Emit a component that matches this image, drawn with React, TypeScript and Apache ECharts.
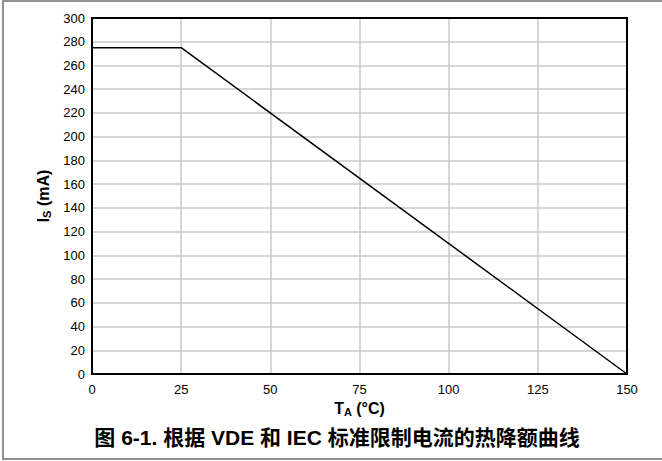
import React, { useEffect, useRef } from "react";
import * as echarts from "echarts";

const temperature = [0, 25, 150];
const current = [275, 275, 0];
const titleText = "图 6-1. 根据 VDE 和 IEC 标准限制电流的热降额曲线";

export default function App() {
  const ref = useRef<HTMLDivElement>(null);
  useEffect(() => {
    document.body.style.margin = "0";
    const chart = echarts.init(ref.current!, undefined, { renderer: "svg" });
    const font = "Arial, 'Liberation Sans', Helvetica, sans-serif";
    const nameRich = {
      a: { fontSize: 16, fontWeight: "bold", color: "#000", fontFamily: font },
      s: { fontSize: 11, fontWeight: "bold", color: "#000", fontFamily: font, padding: [6, 0, 0, 0] },
    };
    chart.setOption({
      animation: false,
      backgroundColor: "#fff",
      textStyle: { fontFamily: font },
      grid: {
        left: 92,
        top: 18,
        width: 535,
        height: 356,
        show: true,
        borderColor: "#000",
        borderWidth: 2,
        z: 3,
      },
      xAxis: {
        type: "value",
        min: 0,
        max: 150,
        interval: 25,
        name: "{a|T}{s|A}{a| (°C)}",
        nameLocation: "middle",
        nameGap: 24,
        nameTextStyle: { rich: nameRich },
        axisLine: { show: false },
        axisTick: { show: false },
        axisLabel: { color: "#000", fontSize: 13, margin: 9, fontFamily: font },
        splitLine: { show: true, lineStyle: { color: "#c8c8c8", width: 1.5 } },
      },
      yAxis: {
        type: "value",
        min: 0,
        max: 300,
        interval: 20,
        name: "{a|I}{s|S}{a| (mA)}",
        nameLocation: "middle",
        nameRotate: 90,
        nameGap: 40,
        nameTextStyle: { rich: nameRich },
        axisLine: { show: false },
        axisTick: { show: false },
        axisLabel: { color: "#000", fontSize: 13, margin: 7, fontFamily: font },
        splitLine: { show: true, lineStyle: { color: "#c8c8c8", width: 1.5 } },
      },
      series: [
        {
          type: "line",
          data: temperature.map((t, i) => [t, current[i]]),
          symbol: "none",
          lineStyle: { color: "#000", width: 1.5 },
          z: 4,
        },
      ],
      graphic: [
        {
          type: "rect",
          shape: { x: 3, y: 1, width: 700, height: 458 },
          style: { fill: "none", stroke: "#6e6e6e", lineWidth: 1.5 },
          silent: true,
        },
        {
          type: "text",
          x: 337,
          y: 437,
          style: {
            text: titleText,
            fill: "#000",
            font: "bold 21px Arial, 'Liberation Sans', 'Noto Sans CJK SC', sans-serif",
            textAlign: "center",
            textVerticalAlign: "middle",
          },
        },
      ],
    });
    return () => chart.dispose();
  }, []);
  return <div ref={ref} style={{ width: 662, height: 461, position: "absolute", left: 0, top: 0 }} />;
}
